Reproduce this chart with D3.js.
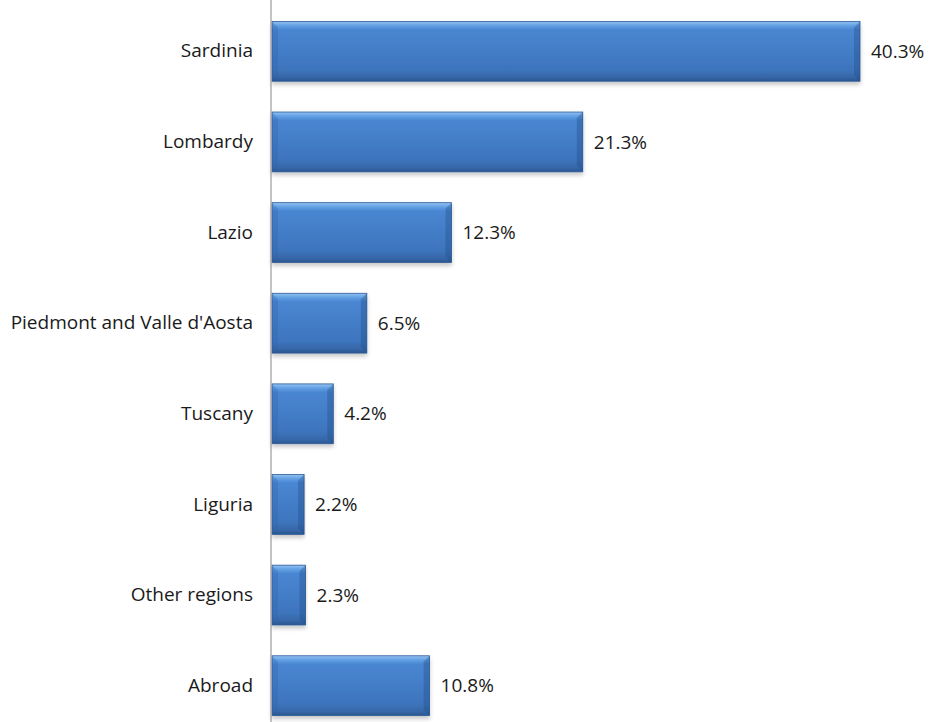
<!DOCTYPE html>
<html>
<head>
<meta charset="utf-8">
<script src="https://cdn.jsdelivr.net/npm/d3@7"></script>
<style>
  body { margin: 0; background: #fff; }
  text { font-family: "Open Sans", sans-serif; fill: #1a1a1a; }
</style>
</head>
<body>
<div id="chart"></div>
<script>
const width = 929;
const height = 722;
const margin = { top: 6, right: 0, bottom: 0, left: 272 };

const regions = ['Sardinia', 'Lombardy', 'Lazio', "Piedmont and Valle d'Aosta", 'Tuscany', 'Liguria', 'Other regions', 'Abroad'];
const shares = [40.3, 21.3, 12.3, 6.5, 4.2, 2.2, 2.3, 10.8];
const labels = ['40.3%', '21.3%', '12.3%', '6.5%', '4.2%', '2.2%', '2.3%', '10.8%'];

const data = regions.map((r, i) => ({ region: r, value: shares[i], label: labels[i] }));

const svg = d3.select('#chart')
  .append('svg')
  .attr('width', width)
  .attr('height', height);

const defs = svg.append('defs');

const grad = defs.append('linearGradient')
  .attr('id', 'barGrad')
  .attr('x1', 0).attr('y1', 0).attr('x2', 0).attr('y2', 1);
[['0%', '#93c2f2'], ['7%', '#62a0e3'], ['14%', '#4a86d2'], ['80%', '#3d75bd'], ['93%', '#3667a8'], ['100%', '#2a5590']]
  .forEach(s => grad.append('stop').attr('offset', s[0]).attr('stop-color', s[1]));

const shadow = defs.append('filter')
  .attr('id', 'shadow')
  .attr('x', '-5%').attr('y', '-10%').attr('width', '110%').attr('height', '130%');
shadow.append('feDropShadow')
  .attr('dx', 0).attr('dy', 3).attr('stdDeviation', 2)
  .attr('flood-color', '#000').attr('flood-opacity', 0.22);

const x = d3.scaleLinear()
  .domain([0, 40.3])
  .range([margin.left, 860]);

const y = d3.scaleBand()
  .domain(regions)
  .range([margin.top, 731])
  .paddingInner(0.34)
  .paddingOuter(0.17);

// bars
const bars = svg.append('g')
  .selectAll('g')
  .data(data)
  .join('g');

bars.append('rect')
  .attr('x', x(0))
  .attr('y', d => y(d.region))
  .attr('width', d => x(d.value) - x(0))
  .attr('height', y.bandwidth())
  .attr('fill', 'url(#barGrad)')
  .attr('stroke', '#2d5b97')
  .attr('stroke-width', 0.8)
  .attr('filter', 'url(#shadow)');

// bevel edges
bars.append('path')
  .attr('d', d => {
    const x0 = x(0), y0 = y(d.region), h = y.bandwidth(), b = 6;
    return `M${x0},${y0}L${x0 + b},${y0 + b}L${x0 + b},${y0 + h - b}L${x0},${y0 + h}Z`;
  })
  .attr('fill', '#2f62a8')
  .attr('opacity', 0.3);

bars.append('path')
  .attr('d', d => {
    const x1 = x(d.value), y0 = y(d.region), h = y.bandwidth(), b = 6;
    return `M${x1},${y0}L${x1 - b},${y0 + b}L${x1 - b},${y0 + h - b}L${x1},${y0 + h}Z`;
  })
  .attr('fill', '#1f4a85')
  .attr('opacity', 0.35);

// value labels
bars.append('text')
  .attr('x', d => x(d.value) + 11)
  .attr('y', d => y(d.region) + y.bandwidth() / 2)
  .attr('dy', '0.35em')
  .attr('font-size', 19)
  .text(d => d.label);

// category axis
const yAxis = svg.append('g')
  .attr('transform', `translate(${margin.left - 1},0)`)
  .call(d3.axisLeft(y).tickSize(0).tickPadding(18));

yAxis.select('.domain').remove();
yAxis.selectAll('text')
  .attr('font-size', 19)
  .style('font-family', '"Open Sans", sans-serif')
  .attr('fill', '#1a1a1a');

svg.append('line')
  .attr('x1', margin.left - 1).attr('x2', margin.left - 1)
  .attr('y1', 0).attr('y2', height)
  .attr('stroke', '#9a9a9a')
  .attr('stroke-width', 1.2);
</script>
</body>
</html>
